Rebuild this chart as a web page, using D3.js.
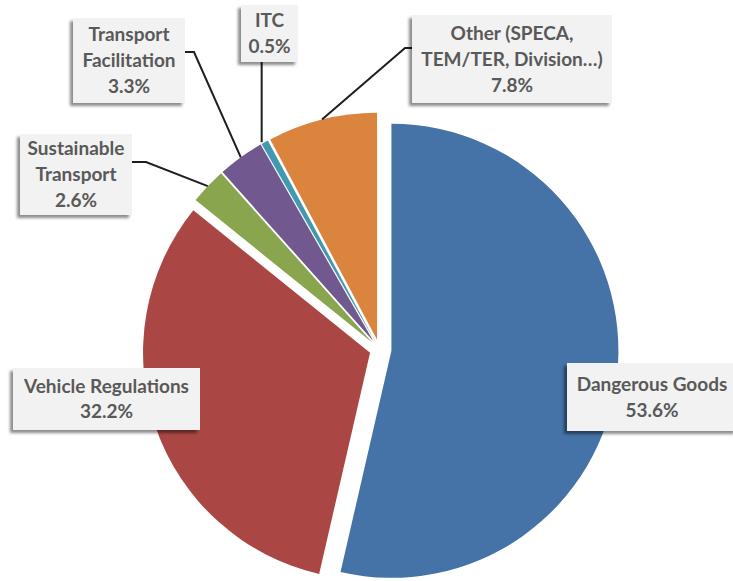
<!DOCTYPE html>
<html>
<head>
<meta charset="utf-8">
<script src="https://cdn.jsdelivr.net/npm/d3@7"></script>
<style>
  html, body { margin: 0; padding: 0; background: #fff; }
  svg { display: block; }
  .lbl { font-family: Lato, "Open Sans", sans-serif; font-weight: 700; fill: #595959; }
</style>
</head>
<body>
<svg id="chart" width="733" height="581"></svg>
<script>
// Shares of work by area (percent)
const categories = ["Dangerous Goods", "Vehicle Regulations", "Sustainable Transport",
                    "Transport Facilitation", "ITC", "Other (SPECA, TEM/TER, Division…)"];
const shares = [53.6, 32.2, 2.6, 3.3, 0.5, 7.8];
// How each category name is broken onto lines in its label
const labelLines = [
  ["Dangerous Goods"],
  ["Vehicle Regulations"],
  ["Sustainable", "Transport"],
  ["Transport", "Facilitation"],
  ["ITC"],
  ["Other (SPECA,", "TEM/TER, Division…)"]
];
const colors = ["#4572A7", "#AA4643", "#89A54E", "#71588F", "#4198AF", "#DB843D"];

// Layout: pie centre, radius, slice explosion, label boxes and leader elbows
const cx = 379.5, cy = 349.5, radius = 227;
const explode = [12, 10, 10, 10, 10, 10];
const boxes = [
  { x: 567, y: 363, w: 170, h: 68, lh: 26 },
  { x: 13,  y: 368, w: 187, h: 62, lh: 25 },
  { x: 20,  y: 134, w: 112, h: 81, lh: 26 },
  { x: 73,  y: 18,  w: 112, h: 85, lh: 26 },
  { x: 241, y: 5,   w: 57,  h: 57, lh: 26 },
  { x: 412, y: 15,  w: 200, h: 88, lh: 26 }
];
// leader: side of the box where the line starts and the elbow offset
const leaders = [
  null,
  null,
  { side: "right", y: 162, elbow: 14 },
  { side: "right", y: 52, elbow: 9 },
  { side: "bottom" },
  { side: "left", y: 48, elbow: -7 }
];

const svg = d3.select("#chart");
const defs = svg.append("defs");
const f = defs.append("filter").attr("id", "shadow")
  .attr("x", "-20%").attr("y", "-20%").attr("width", "140%").attr("height", "140%");
f.append("feDropShadow").attr("dx", -3).attr("dy", 3).attr("stdDeviation", 1.6)
  .attr("flood-color", "#000").attr("flood-opacity", 0.45);

const pie = d3.pie().sort(null).value(d => d);
const arcs = pie(shares);
const arc = d3.arc().innerRadius(0).outerRadius(radius);

function offsetOf(i) {
  const a = (arcs[i].startAngle + arcs[i].endAngle) / 2;
  return [cx + explode[i] * Math.sin(a), cy - explode[i] * Math.cos(a)];
}

// Slices
svg.append("g").selectAll("path")
  .data(arcs)
  .join("path")
  .attr("transform", (d, i) => { const o = offsetOf(i); return `translate(${o[0]},${o[1]})`; })
  .attr("d", arc)
  .attr("fill", (d, i) => colors[i]);

// Leader lines from the label boxes to the slice rims
const fmt = v => d3.format(".1f")(v) + "%";
const leaderG = svg.append("g");
arcs.forEach((d, i) => {
  const L = leaders[i];
  if (!L) return;
  const o = offsetOf(i);
  const a = (d.startAngle + d.endAngle) / 2;
  const rim = [o[0] + radius * Math.sin(a), o[1] - radius * Math.cos(a)];
  const b = boxes[i];
  let pts;
  if (L.side === "bottom") {
    pts = [[rim[0] - 3, b.y + b.h], [rim[0] - 3, rim[1]]];
  } else {
    const x0 = L.side === "right" ? b.x + b.w : b.x;
    pts = [[x0, L.y], [x0 + L.elbow, L.y], rim];
  }
  leaderG.append("path")
    .attr("d", d3.line()(pts))
    .attr("fill", "none")
    .attr("stroke", "#1e1e1e")
    .attr("stroke-width", 2);
});

// Label boxes
const lab = svg.append("g");
arcs.forEach((d, i) => {
  const b = boxes[i];
  const g = lab.append("g");
  g.append("rect")
    .attr("x", b.x).attr("y", b.y).attr("width", b.w).attr("height", b.h)
    .attr("fill", "#F2F2F2")
    .attr("filter", "url(#shadow)");
  const lines = labelLines[i].concat([fmt(shares[i])]);
  const n = lines.length;
  const midY = b.y + b.h / 2;
  lines.forEach((t, k) => {
    g.append("text")
      .attr("class", "lbl")
      .attr("x", b.x + b.w / 2)
      .attr("y", midY + (k - (n - 1) / 2) * b.lh)
      .attr("dy", "0.35em")
      .attr("text-anchor", "middle")
      .style("font-size", "19px")
      .text(t);
  });
});
</script>
</body>
</html>
